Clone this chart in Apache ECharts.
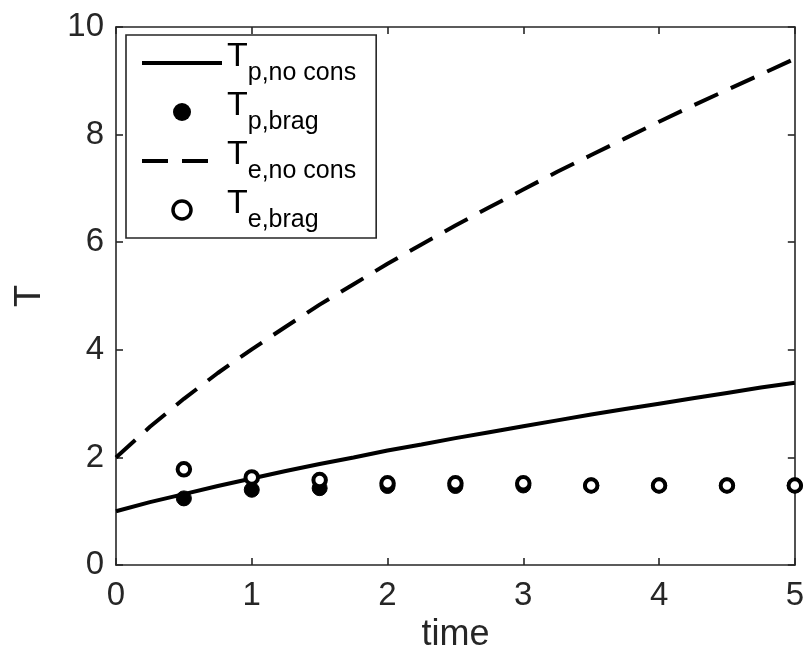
<!DOCTYPE html>
<html>
<head>
<meta charset="utf-8">
<script src="https://cdn.jsdelivr.net/npm/echarts@6/dist/echarts.min.js"></script>
<style>html,body{margin:0;padding:0;background:#fff}#c{width:807px;height:658px}</style>
</head>
<body>
<div id="c"></div>
<script>
// ---- data ----
var tLine = [0,0.25,0.5,0.75,1,1.25,1.5,1.75,2,2.25,2.5,2.75,3,3.25,3.5,3.75,4,4.25,4.5,4.75,5];
var TpNoCons = [1.00,1.17,1.32,1.47,1.61,1.75,1.88,2.00,2.13,2.24,2.36,2.47,2.58,2.69,2.80,2.90,3.00,3.10,3.20,3.30,3.39];
var TeNoCons = [2.00,2.57,3.09,3.57,4.01,4.43,4.84,5.22,5.60,5.96,6.31,6.65,6.98,7.31,7.62,7.93,8.24,8.54,8.83,9.12,9.41];
var tBrag = [0.5,1,1.5,2,2.5,3,3.5,4,4.5,5];
var TpBrag = [1.24,1.40,1.43,1.47,1.47,1.48,1.48,1.48,1.48,1.48];
var TeBrag = [1.78,1.63,1.58,1.52,1.52,1.52,1.48,1.48,1.48,1.48];
var seriesNames = ['Tp,no cons','Tp,brag','Te,no cons','Te,brag'];
var subscripts = ['p,no cons','p,brag','e,no cons','e,brag'];
var xTicks = [0,1,2,3,4,5];
var yTicks = [0,2,4,6,8,10];

function zip(a,b){return a.map(function(v,i){return [v,b[i]];});}

var FONT = 'Liberation Sans, Arial, Helvetica, sans-serif';
var AX = '#262626';
var DASH = [26,14];
var axisCommon = {
  axisLine:{show:true,onZero:false,lineStyle:{color:AX,width:1.6}},
  axisTick:{show:true,inside:true,length:7,lineStyle:{color:AX,width:1.6}},
  splitLine:{show:false}
};
function mk(base, extra){return Object.assign({}, JSON.parse(JSON.stringify(base)), extra);}

var chart = echarts.init(document.getElementById('c'), null, {renderer:'canvas'});
chart.setOption({
  backgroundColor:'#ffffff',
  animation:false,
  grid:{left:116,right:8,top:27,bottom:89,containLabel:false},
  xAxis:[
    mk(axisCommon,{type:'value',position:'bottom',min:xTicks[0],max:xTicks[xTicks.length-1],interval:1,
      name:'time',nameLocation:'middle',nameGap:44,
      nameTextStyle:{fontFamily:FONT,fontSize:36,color:AX},
      axisLabel:{show:true,margin:14,fontFamily:FONT,fontSize:33,color:AX}}),
    mk(axisCommon,{type:'value',position:'top',min:0,max:5,interval:1,axisLabel:{show:false}})
  ],
  yAxis:[
    mk(axisCommon,{type:'value',position:'left',min:yTicks[0],max:yTicks[yTicks.length-1],interval:2,
      name:'T',nameLocation:'middle',nameGap:68,nameRotate:90,
      nameTextStyle:{fontFamily:FONT,fontSize:36,color:AX},
      axisLabel:{show:true,margin:12,fontFamily:FONT,fontSize:33,color:AX}}),
    mk(axisCommon,{type:'value',position:'right',min:0,max:10,interval:2,axisLabel:{show:false}})
  ],
  legend:{
    show:true,orient:'vertical',left:126,top:35,
    backgroundColor:'#ffffff',borderColor:AX,borderWidth:1.6,borderRadius:0,
    padding:[5,20,5,14],
    itemWidth:80,itemHeight:18,itemGap:3,itemTextGap:7,
    data:[
      {name:seriesNames[0],itemStyle:{opacity:0,borderWidth:0},lineStyle:{width:4,type:'solid',color:'#000'}},
      {name:seriesNames[1],itemStyle:{color:'#000',opacity:1,borderWidth:0}},
      {name:seriesNames[2],itemStyle:{opacity:0,borderWidth:0},lineStyle:{width:4,type:DASH,color:'#000'}},
      {name:seriesNames[3],itemStyle:{color:'#fff',borderColor:'#000',borderWidth:3.5,opacity:1}}
    ],
    formatter:function(name){var i=seriesNames.indexOf(name);return '{t|T}{s|'+subscripts[i]+'}';},
    textStyle:{
      rich:{
        t:{fontFamily:FONT,fontSize:34,color:'#000',lineHeight:46,verticalAlign:'top'},
        s:{fontFamily:FONT,fontSize:25,color:'#000',lineHeight:46,verticalAlign:'bottom'}
      }
    }
  },
  series:[
    {name:seriesNames[0],type:'line',data:zip(tLine,TpNoCons),symbol:'none',smooth:false,
      lineStyle:{color:'#000',width:4,type:'solid'},itemStyle:{color:'#000'},z:2},
    {name:seriesNames[1],type:'scatter',data:zip(tBrag,TpBrag),symbol:'circle',symbolSize:15,
      itemStyle:{color:'#000',borderColor:'#000',borderWidth:1,opacity:1},z:3},
    {name:seriesNames[2],type:'line',data:zip(tLine,TeNoCons),symbol:'none',smooth:false,
      lineStyle:{color:'#000',width:4,type:DASH},itemStyle:{color:'#000'},z:2},
    {name:seriesNames[3],type:'scatter',data:zip(tBrag,TeBrag),symbol:'circle',symbolSize:12.5,
      itemStyle:{color:'#ffffff',borderColor:'#000',borderWidth:4,opacity:1},z:4}
  ]
});
</script>
</body>
</html>
